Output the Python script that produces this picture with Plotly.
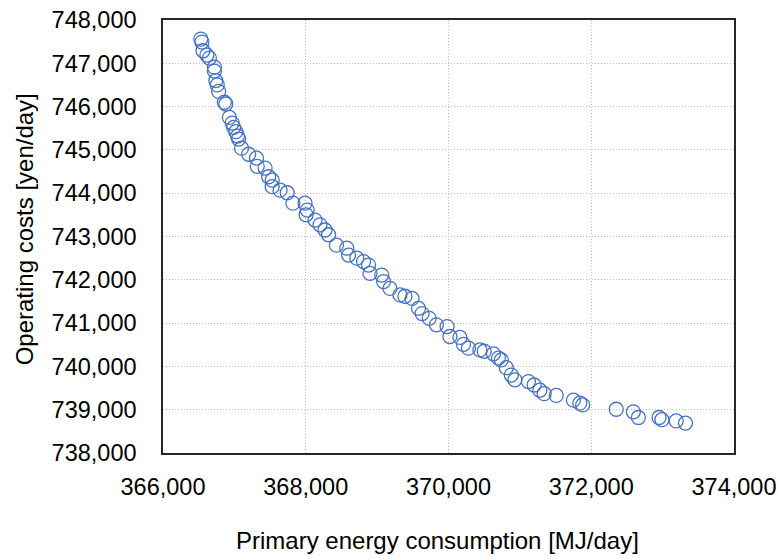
import plotly.graph_objects as go

# Primary energy consumption [MJ/day] for each solution
energy = [
    366530, 366545, 366560, 366615, 366650, 366720, 366720, 366740, 366760, 366780,
    366860, 366880, 366930, 366970, 366990, 367020, 367045, 367060, 367100, 367200,
    367310, 367320, 367430, 367480, 367530, 367530, 367640, 367740, 367820, 367990,
    368020, 368005, 368130, 368200, 368270, 368320, 368430, 368575, 368600, 368715,
    368810, 368880, 368900, 369065, 369090, 369180, 369320, 369390, 369490, 369580,
    369630, 369730, 369830, 369980, 370020, 370160, 370210, 370280, 370440, 370500,
    370630, 370700, 370740, 370810, 370880, 370930, 371120, 371200, 371280, 371340,
    371510, 371750, 371840, 371880, 372350, 372590, 372660, 372950, 372990, 373190,
    373320,
]

# Operating costs [yen/day] for each solution
cost = [
    747560, 747490, 747290, 747190, 747120, 746910, 746820, 746600, 746500, 746350,
    746100, 746060, 745750, 745620, 745520, 745420, 745320, 745250, 745040, 744900,
    744810, 744620, 744580, 744380, 744300, 744150, 744070, 744010, 743770, 743770,
    743610, 743500, 743380, 743270, 743150, 743040, 742800, 742730, 742570, 742500,
    742420, 742340, 742150, 742110, 741960, 741800, 741650, 741620, 741570, 741340,
    741220, 741110, 740960, 740920, 740690, 740670, 740510, 740420, 740380, 740350,
    740290, 740190, 740150, 739970, 739800, 739690, 739650, 739570, 739450, 739370,
    739330, 739220, 739150, 739110, 739010, 738950, 738820, 738820, 738770, 738740,
    738690,
]

x_ticks = [366000, 368000, 370000, 372000, 374000]
y_ticks = [738000, 739000, 740000, 741000, 742000, 743000, 744000, 745000,
           746000, 747000, 748000]

x_title = "Primary energy consumption [MJ/day]"
y_title = "Operating costs [yen/day]"

FONT = "Liberation Sans, Arial, sans-serif"
BLUE = "#4472C4"

fig = go.Figure(
    go.Scatter(
        x=energy,
        y=cost,
        mode="markers",
        marker=dict(
            symbol="circle-open",
            size=14,
            color=BLUE,
            line=dict(width=1.3, color=BLUE),
        ),
        hoverinfo="x+y",
    )
)

axis_common = dict(
    automargin=False,
    showline=True,
    linecolor="#262626",
    linewidth=1.5,
    mirror=True,
    showgrid=True,
    gridcolor="#BFBFBF",
    griddash="1px,2px",
    gridwidth=1,
    zeroline=False,
    ticks="",
    tickformat=",d",
    tickfont=dict(family=FONT, size=23.5, color="#000000"),
)

fig.update_xaxes(range=[366000, 374000], tickvals=x_ticks,
                 ticklabelstandoff=12, **axis_common)
fig.update_yaxes(range=[738000, 748000], tickvals=y_ticks,
                 ticklabelstandoff=20, **axis_common)

# Axis titles placed as paper-anchored annotations
fig.add_annotation(
    text=x_title, xref="paper", yref="paper",
    x=0.4816, y=-0.2032, xanchor="center", yanchor="middle",
    showarrow=False, font=dict(family=FONT, size=24, color="#000000"),
)
fig.add_annotation(
    text=y_title, xref="paper", yref="paper",
    x=-0.2434, y=0.5165, xanchor="center", yanchor="middle", textangle=-90,
    showarrow=False, font=dict(family=FONT, size=24, color="#000000"),
)

fig.update_layout(
    width=779,
    height=559,
    margin=dict(l=163, r=45, t=20, b=106),
    paper_bgcolor="#FFFFFF",
    plot_bgcolor="#FFFFFF",
    showlegend=False,
    font=dict(family=FONT, color="#000000"),
)

fig.write_html("out.html")
